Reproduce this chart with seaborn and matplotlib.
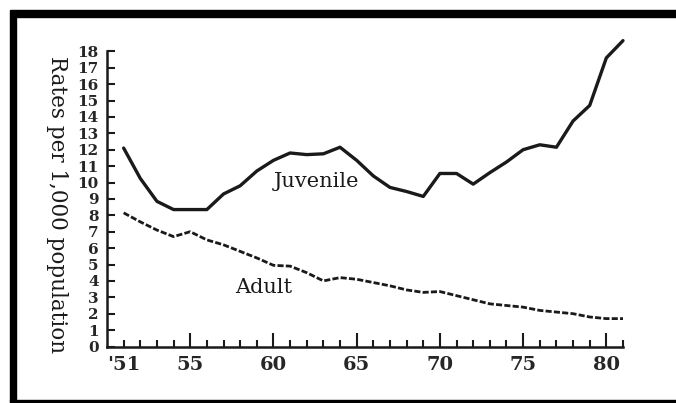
import pandas as pd
import matplotlib.pyplot as plt
import seaborn as sns
from matplotlib.patches import Rectangle

# Values (rates per 1,000 population)
years = list(range(1951, 1982))
juvenile = [12.1, 10.25, 8.85, 8.35, 8.35, 8.35, 9.3, 9.8, 10.7, 11.35,
            11.8, 11.7, 11.75, 12.15, 11.35, 10.4, 9.7, 9.45, 9.15, 10.55,
            10.55, 9.9, 10.6, 11.25, 12.0, 12.3, 12.15, 13.75, 14.7, 17.6, 18.65]
adult = [8.15, 7.6, 7.1, 6.7, 7.0, 6.5, 6.2, 5.8, 5.4, 4.95,
         4.9, 4.5, 4.0, 4.2, 4.1, 3.9, 3.7, 3.45, 3.3, 3.35,
         3.1, 2.85, 2.6, 2.5, 2.4, 2.2, 2.1, 2.0, 1.8, 1.7, 1.7]
x_tick_years = [1951, 1955, 1960, 1965, 1970, 1975, 1980]
x_tick_labels = ["'51", "55", "60", "65", "70", "75", "80"]
y_ticks = list(range(0, 19))

df = pd.DataFrame({'Year': years, 'Juvenile': juvenile, 'Adult': adult})

sns.set_style('white', {'xtick.bottom': True, 'ytick.left': True})
plt.rcParams['font.family'] = ['DejaVu Serif']
plt.rcParams['xtick.direction'] = 'in'
plt.rcParams['ytick.direction'] = 'in'

fig = plt.figure(figsize=(6.76, 4.03), dpi=100)
ax = fig.add_axes([107 / 676, 56.5 / 403, 516 / 676, 311.6 / 403])

sns.lineplot(data=df, x='Year', y='Juvenile', ax=ax, color='#1a1a1a',
             linewidth=2.4, clip_on=False)
sns.lineplot(data=df, x='Year', y='Adult', ax=ax, color='#1a1a1a',
             linewidth=2.0, linestyle=(0, (2.2, 0.8)), clip_on=False)

ax.set_xlim(1950, 1981)
ax.set_ylim(0, 19)

# axes: only left and bottom, ticks pointing inward
for side in ['top', 'right']:
    ax.spines[side].set_visible(False)
ax.spines['left'].set_bounds(0, 18)
for side in ['left', 'bottom']:
    ax.spines[side].set_linewidth(1.8)
    ax.spines[side].set_color('#1a1a1a')

ax.set_yticks(y_ticks)
ax.set_yticklabels([str(v) for v in y_ticks], fontsize=11, fontweight='bold')
ax.set_xticks(x_tick_years)
ax.set_xticklabels(x_tick_labels, fontsize=14, fontweight='bold')
ax.set_xticks(years, minor=True)
ax.tick_params(axis='y', left=True, direction='in', length=6, width=1.5, pad=6, color='#1a1a1a')
ax.tick_params(axis='x', which='major', bottom=True, direction='in', length=10, width=1.5, pad=7, color='#1a1a1a')
ax.tick_params(axis='x', which='minor', bottom=True, direction='in', length=5, width=1.5, color='#1a1a1a')
# the '51 tick is a short one, like the other single years
ax.xaxis.get_major_ticks()[0].tick1line.set_markersize(5)

ax.set_xlabel('')
ax.set_ylabel('')
fig.text(57 / 676, 1 - 205 / 403, 'Rates per 1,000 population', rotation=-90,
         ha='center', va='center', fontsize=15.5, color='#1a1a1a')

ax.text(1962.6, 10.06, 'Juvenile', ha='center', va='center', fontsize=15, color='#1a1a1a')
ax.text(1959.4, 3.6, 'Adult', ha='center', va='center', fontsize=15, color='#1a1a1a')

# black frame around the figure
fig.patches.append(Rectangle((10 / 676, 1 - 16.7 / 403), 1, 6.7 / 403,
                             transform=fig.transFigure, color='black', zorder=5))
fig.patches.append(Rectangle((9.5 / 676, 1.5 / 403), 6.5 / 676, 385 / 403,
                             transform=fig.transFigure, color='black', zorder=5))
fig.patches.append(Rectangle((10 / 676, 1 / 403), 1, 1.6 / 403,
                             transform=fig.transFigure, color='black', zorder=5))

fig.savefig('out.png', dpi=100)
